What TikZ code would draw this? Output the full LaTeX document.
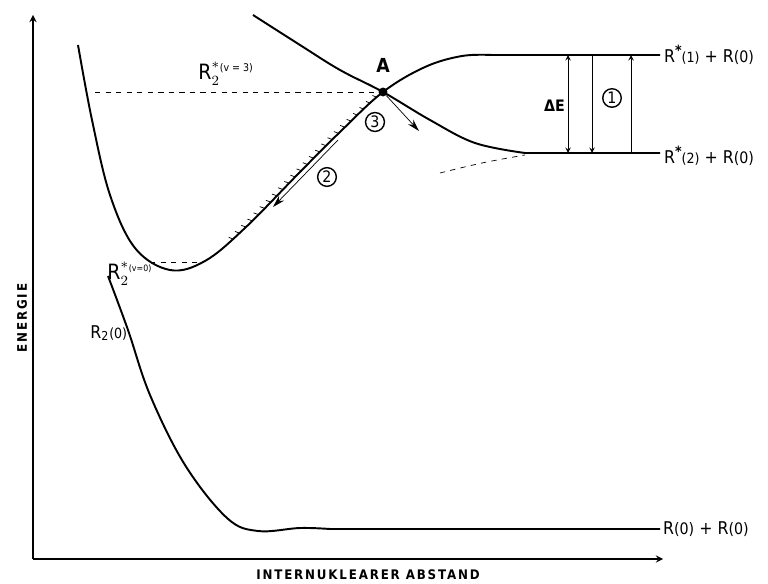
\documentclass[tikz,border=0pt]{standalone}
\usepackage{fontspec}
\setmainfont{DejaVu Sans Condensed}
\setmathrm{DejaVu Sans Condensed}
\newfontfamily\axisfont[LetterSpace=14]{DejaVu Sans Condensed}
\usetikzlibrary{positioning,decorations.markings,arrows.meta}

\newcommand{\Rst}{R\raisebox{0.42em}{\fontsize{8}{8}\selectfont\bfseries *}}
\newcommand{\Rstw}{$\mathrm{R}^{*}_{2}$}

\begin{document}
\begin{tikzpicture}[x=0.02cm, y=-0.02cm, >=stealth, every node/.style={font=\fontsize{10}{12}\selectfont}]

\tikzset{
  curve/.style={line width=1.1pt},
  level/.style={dashed, thin},
  hatched/.style={postaction={decorate}, decoration={markings,
      mark=between positions 0.02 and 0.97 step 5pt with {\draw[thin] (0pt,0pt) -- (-1.2pt,2.6pt);}}},
  numcirc/.style={circle, draw, thick, inner sep=0.8pt, font=\fontsize{9}{10}\selectfont},
  axislabel/.style={font=\fontsize{7.5}{9}\selectfont\axisfont\bfseries},
  path arrow/.style={-{Stealth[length=7pt,width=4pt]}}
}

\useasboundingbox (0,0) rectangle (768,584);

% Axes
\coordinate (O) at (33,559);
\coordinate (ytop) at (33,15);
\coordinate (xend) at (663,559);
\draw[->, thick] (O) -- (ytop);
\draw[->, thick] (O) -- (xend);
\node[axislabel, rotate=90] (energie) at (22,318) {ENERGIE};
\node[axislabel] (abstand) at (368,575) {INTERNUKLEARER ABSTAND};

% Crossing point
\node[circle, fill, inner sep=1.8pt] (A) at (383,92) {};
\node[above=5pt of A, font=\fontsize{11}{12}\selectfont\bfseries] (Alab) {A};

% Excited well R2*
\draw[curve] plot[smooth, tension=0.6] coordinates {(78,45) (92,120) (110,195) (135,248) (170,270) (205,261) (245,228) (300,172) (340,132) (383,92) (425,67) (462,56) (492,55)} -- (660,55);
\path[hatched] plot[smooth, tension=0.6] coordinates {(230,242) (245,228) (300,172) (340,132) (383,92)};

% Second excited curve
\draw[curve] plot[smooth, tension=0.6] coordinates {(253,15) (300,45) (340,70) (383,92) (430,120) (475,143) (525,153)} -- (660,153);
\draw[dashed] plot[smooth, tension=0.6] coordinates {(440,173) (482,163) (525,155)};

% Ground state
\draw[curve] plot[smooth, tension=0.6] coordinates {(108,276) (128,330) (150,395) (185,465) (227,518) (258,531) (300,528) (330,529)} -- (660,529);

% Vibrational levels
\coordinate (l3) at (95,92);
\draw[level] (l3) -- (A.west);
\coordinate (l0a) at (150,262);
\coordinate (l0b) at (198,262);
\draw[level] (l0a) -- (l0b);

% Labels of the curves
\node[anchor=base west, inner sep=0pt] (lv3) at (198,80) {\fontsize{12}{12}\selectfont\Rstw\raisebox{5pt}{\fontsize{6}{7}\selectfont(v = 3)}};
\node[anchor=base west, inner sep=0pt] (lv0) at (107,280) {\fontsize{12}{12}\selectfont\Rstw\raisebox{5pt}{\fontsize{5}{6}\selectfont(v=0)}};
\node[anchor=base west, inner sep=0pt] (lg) at (90,338) {R\textsubscript{2}{\fontsize{8}{9}\selectfont(0)}};
\node[anchor=west, inner sep=1pt] (r1) at (662,55) {\Rst{\fontsize{8}{9}\selectfont(1)} + R{\fontsize{9}{9}\selectfont(0)}};
\node[anchor=west, inner sep=1pt] (r2) at (662,156) {\Rst{\fontsize{8}{9}\selectfont(2)} + R{\fontsize{9}{9}\selectfont(0)}};
\node[anchor=west, inner sep=1pt] (r0) at (661,529) {R{\fontsize{9}{9}\selectfont(0)} + R{\fontsize{9}{9}\selectfont(0)}};

% Energy gap
\coordinate (d1) at (568,55);
\coordinate (d2) at (568,153);
\coordinate (e1) at (592,55);
\coordinate (e2) at (592,153);
\coordinate (f1) at (631,153);
\coordinate (f2) at (631,55);
\draw[<->] (d1) -- (d2);
\node[anchor=east, inner sep=1pt, font=\fontsize{9}{10}\selectfont\bfseries] (dE) at (567,106) {ΔE};
\draw[->] (e1) -- (e2);
\draw[->] (f1) -- (f2);
\node[numcirc] (n1) at (612,98) {1};

% Transfer paths
\coordinate (p2s) at (338,140);
\coordinate (p2e) at (273,207);
\draw[path arrow] (p2s) -- (p2e);
\node[numcirc] (n2) at (327,177) {2};
\coordinate (p3e) at (419,131);
\draw[path arrow] (A) -- (p3e);
\node[numcirc] (n3) at (375,122) {3};

\end{tikzpicture}
\end{document}
